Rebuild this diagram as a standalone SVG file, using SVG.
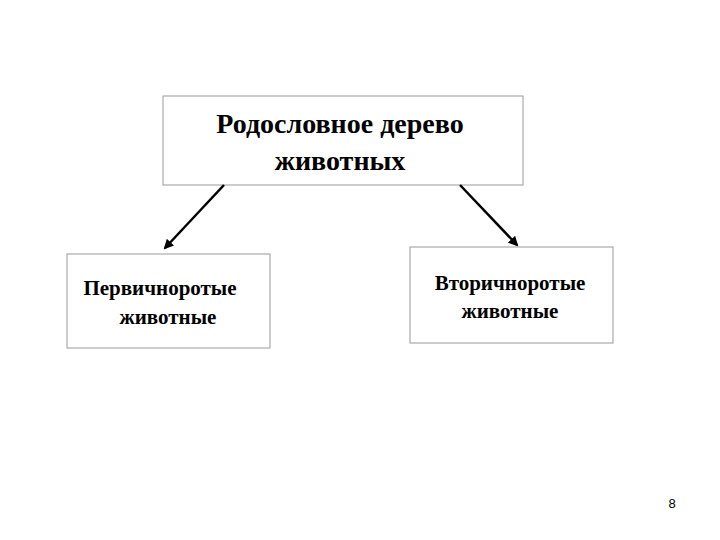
<svg xmlns="http://www.w3.org/2000/svg" width="720" height="540" viewBox="0 0 720 540">
<style>
.box{fill:#fff;stroke:#999;stroke-width:1}
.t{font-family:"Liberation Serif",serif;font-weight:bold;fill:#000;text-anchor:middle}
.c{stroke:#000;stroke-width:2.5;fill:none;marker-end:url(#a)}
</style>
<defs><marker id="a" viewBox="0 0 10 10" refX="8" refY="5" markerWidth="4" markerHeight="4" orient="auto"><path d="M0,0L10,5L0,10z" fill="#000"/></marker></defs>
<rect width="720" height="540" fill="#fff"/>
<g id="root"><rect class="box" x="163" y="96" width="360" height="89"/>
<text class="t" x="340" y="133" font-size="28">Родословное дерево</text>
<text class="t" x="340" y="170" font-size="28">животных</text></g>
<g id="left"><rect class="box" x="67" y="254" width="203" height="94"/>
<text class="t" x="160" y="295" font-size="21">Первичноротые</text>
<text class="t" x="168" y="324" font-size="21">животные</text></g>
<g id="right"><rect class="box" x="410" y="247" width="203" height="96"/>
<text class="t" x="510" y="290" font-size="21">Вторичноротые</text>
<text class="t" x="510" y="318" font-size="21">животные</text></g>
<g id="connectors">
<line class="c" x1="224" y1="185" x2="165" y2="248"/>
<line class="c" x1="460" y1="185" x2="517" y2="245"/>
</g>
<text x="672" y="508" font-family="Liberation Sans,sans-serif" font-size="13" text-anchor="middle">8</text>
</svg>
